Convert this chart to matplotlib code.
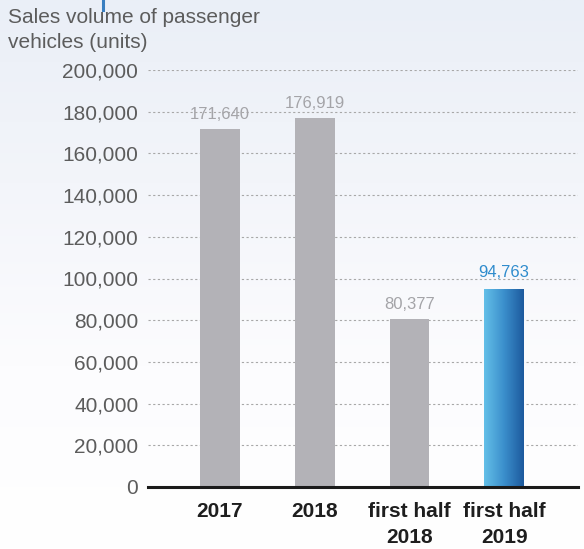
import numpy as np
import matplotlib
matplotlib.use("Agg")
import matplotlib.pyplot as plt
from matplotlib.colors import LinearSegmentedColormap
from matplotlib.ticker import FuncFormatter

plt.rcParams['font.family'] = ['Liberation Sans', 'DejaVu Sans']

# Sales data
periods = ["2017", "2018", "first half\n2018", "first half\n2019"]
sales = [171640, 176919, 80377, 94763]
highlight = [False, False, False, True]
y_ticks = list(range(0, 200001, 20000))

fig = plt.figure(figsize=(5.84, 5.49), dpi=100)

# soft sky background
bg = fig.add_axes([0, 0, 1, 1], zorder=-10)
bg_cmap = LinearSegmentedColormap.from_list("sky", ["#eaeff7", "#f3f5fa", "#fcfcfe", "#ffffff"])
bg.imshow(np.linspace(0, 1, 256).reshape(-1, 1), aspect='auto', cmap=bg_cmap,
          extent=[0, 1, 0, 1], origin='upper')
bg.set_axis_off()

ax = fig.add_axes([148 / 584, 62 / 549, 430 / 584, 417 / 549])
ax.patch.set_alpha(0)

x = np.arange(len(periods))
w = 0.42
blue_cmap = LinearSegmentedColormap.from_list("bar", ["#63bfe8", "#3b8fcc", "#1d5a9e"])

for xi, val, hi in zip(x, sales, highlight):
    if hi:
        ax.bar(xi, val, width=w, color='none', zorder=3)
        ax.imshow(np.linspace(0, 1, 100).reshape(1, -1), cmap=blue_cmap, aspect='auto',
                  extent=[xi - w / 2, xi + w / 2, 0, val], zorder=3)
        ax.annotate(f"{val:,}", (xi, val), xytext=(0, 7), textcoords='offset points',
                    ha='center', va='bottom', fontsize=12, color='#2f8ccd')
    else:
        ax.bar(xi, val, width=w, color='#b3b2b7', zorder=3)
        ax.annotate(f"{val:,}", (xi, val), xytext=(0, 5), textcoords='offset points',
                    ha='center', va='bottom', fontsize=12, color='#a4a4a8')

ax.set_xlim(-0.76, 3.78)
ax.set_ylim(0, 200000)
ax.set_yticks(y_ticks)
ax.yaxis.set_major_formatter(FuncFormatter(lambda v, p: f"{int(v):,}"))
ax.set_xticks(x)
ax.set_xticklabels(periods, fontsize=15, fontweight='bold', color='#1e1e1e', linespacing=1.45)
ax.tick_params(axis='y', length=0, pad=7, labelsize=15, labelcolor='#5c5c5c')
ax.tick_params(axis='x', length=0, pad=11)

ax.grid(axis='y', linestyle=(0, (2, 2.2)), color='#a8a8a8', linewidth=0.8, zorder=0)
ax.axhline(0, color='#1a1a1a', linewidth=2.2, zorder=4, clip_on=False)
for s in ax.spines.values():
    s.set_visible(False)

fig.text(8 / 584, 1 - 8 / 549, "Sales volume of passenger\nvehicles (units)", fontsize=15,
         color='#5c5c5c', ha='left', va='top', linespacing=1.4)

# small accent mark at the top edge
fig.add_artist(plt.Line2D([103 / 584, 103 / 584], [1, 1 - 10 / 549], color='#3a7fc0',
                          linewidth=2.2, transform=fig.transFigure))

fig.savefig("out.png", dpi=100)
